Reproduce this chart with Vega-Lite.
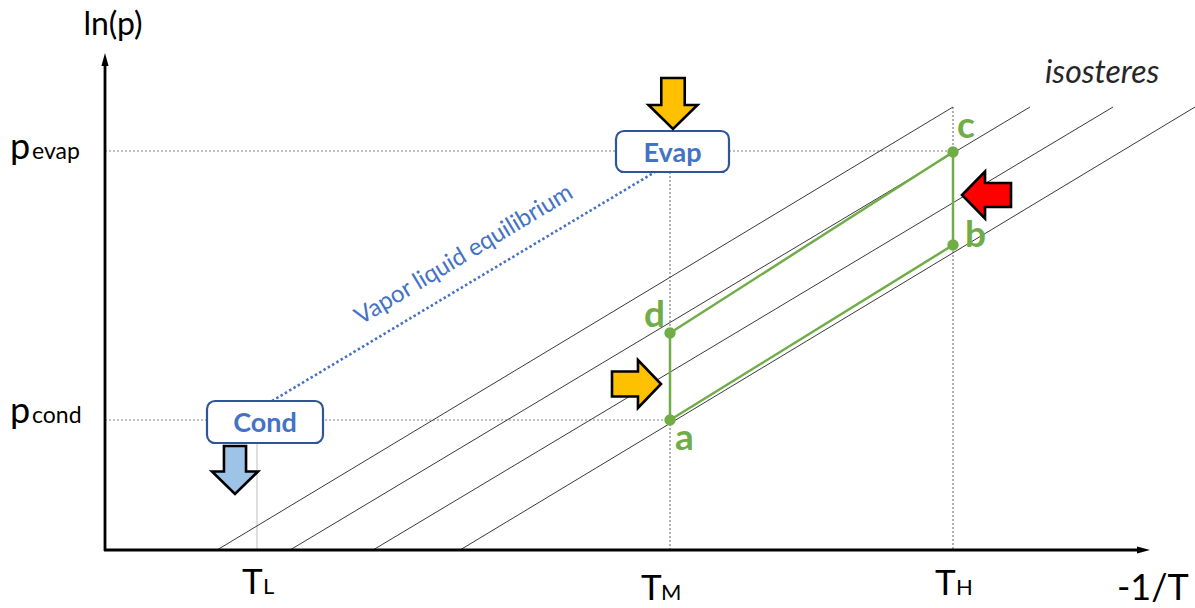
{
  "$schema": "https://vega.github.io/schema/vega-lite/v6.json",
  "width": 1195,
  "height": 608,
  "padding": 0,
  "autosize": {"type": "none"},
  "background": "white",
  "config": {"view": {"stroke": null}, "text": {"font": "Lato"}},
  "encoding": {
    "x": {"field": "x", "type": "quantitative", "scale": {"domain": [0, 1195], "nice": false, "zero": false}, "axis": null},
    "y": {"field": "y", "type": "quantitative", "scale": {"domain": [0, 608], "nice": false, "zero": false, "reverse": true}, "axis": null}
  },
  "layer": [
    {
      "data": {"values": [
        {"x": 105, "y": 151, "x2": 953, "y2": 151},
        {"x": 105, "y": 420, "x2": 670, "y2": 420},
        {"x": 670, "y": 172, "x2": 670, "y2": 550},
        {"x": 953, "y": 107, "x2": 953, "y2": 550}
      ]},
      "mark": {"type": "rule", "color": "#808080", "strokeDash": [2, 2], "strokeWidth": 1.2},
      "encoding": {"x2": {"field": "x2"}, "y2": {"field": "y2"}}
    },
    {
      "data": {"values": [{"x": 257, "y": 443, "x2": 257, "y2": 550}]},
      "mark": {"type": "rule", "color": "#d4d4d4", "strokeWidth": 1.5},
      "encoding": {"x2": {"field": "x2"}, "y2": {"field": "y2"}}
    },
    {
      "data": {"values": [
        {"x": 217, "y": 550, "x2": 953, "y2": 107},
        {"x": 290, "y": 550, "x2": 1030, "y2": 107},
        {"x": 373, "y": 550, "x2": 1113, "y2": 107},
        {"x": 460, "y": 550, "x2": 1195, "y2": 107}
      ]},
      "mark": {"type": "rule", "color": "#3a3a3a", "strokeWidth": 1},
      "encoding": {"x2": {"field": "x2"}, "y2": {"field": "y2"}}
    },
    {
      "data": {"values": [{"x": 272, "y": 401, "x2": 655, "y2": 172}]},
      "mark": {"type": "rule", "color": "#4472C4", "strokeDash": [2.5, 2.5], "strokeWidth": 2.6},
      "encoding": {"x2": {"field": "x2"}, "y2": {"field": "y2"}}
    },
    {
      "data": {"values": [
        {"x": 670, "y": 420, "x2": 953, "y2": 245},
        {"x": 953, "y": 245, "x2": 953, "y2": 152},
        {"x": 953, "y": 152, "x2": 670, "y2": 333},
        {"x": 670, "y": 333, "x2": 670, "y2": 420}
      ]},
      "mark": {"type": "rule", "color": "#70AD47", "strokeWidth": 2.5},
      "encoding": {"x2": {"field": "x2"}, "y2": {"field": "y2"}}
    },
    {
      "data": {"values": [
        {"x": 105, "y": 551, "x2": 105, "y2": 64},
        {"x": 104, "y": 550, "x2": 1140, "y2": 550}
      ]},
      "mark": {"type": "rule", "color": "#000000", "strokeWidth": 2.8},
      "encoding": {"x2": {"field": "x2"}, "y2": {"field": "y2"}}
    },
    {
      "data": {"values": [{"x": 105, "y": 59.5}]},
      "mark": {"type": "point", "shape": "M0,-1 L0.55,1 L-0.55,1 Z", "filled": true, "color": "#000000", "size": 169, "opacity": 1}
    },
    {
      "data": {"values": [{"x": 1143.5, "y": 550}]},
      "mark": {"type": "point", "shape": "M1,0 L-1,0.55 L-1,-0.55 Z", "filled": true, "color": "#000000", "size": 169, "opacity": 1}
    },
    {
      "data": {"values": [
        {"x": 670, "y": 420, "label": "a"},
        {"x": 953, "y": 245, "label": "b"},
        {"x": 953, "y": 152, "label": "c"},
        {"x": 670, "y": 333, "label": "d"}
      ]},
      "mark": {"type": "point", "filled": true, "color": "#70AD47", "size": 130, "opacity": 1}
    },
    {
      "data": {"values": [
        {"x": 675, "y": 450, "label": "a"},
        {"x": 965, "y": 247, "label": "b"},
        {"x": 957, "y": 138, "label": "c"},
        {"x": 644, "y": 327, "label": "d"}
      ]},
      "mark": {"type": "text", "align": "left", "baseline": "alphabetic", "fontSize": 37, "fontWeight": "bold", "color": "#70AD47"},
      "encoding": {"text": {"field": "label"}}
    },
    {
      "data": {"values": [
        {"x": 616, "y": 131, "x2": 729, "y2": 172},
        {"x": 207, "y": 401, "x2": 323, "y2": 443}
      ]},
      "mark": {"type": "rect", "fill": "white", "stroke": "#2F5597", "strokeWidth": 2.2, "cornerRadius": 8},
      "encoding": {"x2": {"field": "x2"}, "y2": {"field": "y2"}}
    },
    {
      "data": {"values": [
        {"x": 672.5, "y": 162, "label": "Evap"},
        {"x": 265, "y": 432, "label": "Cond"}
      ]},
      "mark": {"type": "text", "align": "center", "baseline": "alphabetic", "fontSize": 27, "fontWeight": "bold", "color": "#4472C4"},
      "encoding": {"text": {"field": "label"}}
    },
    {
      "data": {"values": [{"x": 464, "y": 255, "label": "Vapor liquid equilibrium"}]},
      "mark": {"type": "text", "align": "center", "baseline": "middle", "fontSize": 24, "angle": -31, "color": "#4472C4"},
      "encoding": {"text": {"field": "label"}}
    },
    {
      "data": {"values": [{"x": 673, "y": 103.5, "name": "adsorbent heat in"}]},
      "mark": {"type": "point", "shape": "M-0.46,-1 L0.46,-1 L0.46,0.06 L0.96,0.06 L0,1 L-0.96,0.06 L-0.46,0.06 Z", "filled": true, "fill": "#FFC000", "stroke": "#000000", "strokeWidth": 2.6, "strokeJoin": "miter", "size": 2600, "opacity": 1, "fillOpacity": 1, "strokeOpacity": 1}
    },
    {
      "data": {"values": [{"x": 235, "y": 470, "name": "cond heat out"}]},
      "mark": {"type": "point", "shape": "M-0.46,-1 L0.46,-1 L0.46,0.06 L0.96,0.06 L0,1 L-0.96,0.06 L-0.46,0.06 Z", "filled": true, "fill": "#9DC3E6", "stroke": "#000000", "strokeWidth": 2.6, "strokeJoin": "miter", "size": 2304, "opacity": 1, "fillOpacity": 1, "strokeOpacity": 1}
    },
    {
      "data": {"values": [{"x": 636.5, "y": 384, "name": "heat in da"}]},
      "mark": {"type": "point", "shape": "M-1,-0.51 L0.06,-0.51 L0.06,-0.98 L1,0 L0.06,0.98 L0.06,0.51 L-1,0.51 Z", "filled": true, "fill": "#FFC000", "stroke": "#000000", "strokeWidth": 2.6, "strokeJoin": "miter", "size": 2401, "opacity": 1, "fillOpacity": 1, "strokeOpacity": 1}
    },
    {
      "data": {"values": [{"x": 986.5, "y": 195, "name": "heat in bc"}]},
      "mark": {"type": "point", "shape": "M1,-0.49 L-0.06,-0.49 L-0.06,-0.96 L-1,0 L-0.06,0.96 L-0.06,0.49 L1,0.49 Z", "filled": true, "fill": "#FF0000", "stroke": "#000000", "strokeWidth": 2.6, "strokeJoin": "miter", "size": 2401, "opacity": 1, "fillOpacity": 1, "strokeOpacity": 1}
    },
    {
      "data": {"values": [{"x": 113, "y": 35, "label": "ln(p)"}]},
      "mark": {"type": "text", "align": "center", "baseline": "alphabetic", "fontSize": 32, "color": "#000000"},
      "encoding": {"text": {"field": "label"}}
    },
    {
      "data": {"values": [
        {"x": 10, "y": 159, "label": "p"},
        {"x": 10, "y": 423, "label": "p"}
      ]},
      "mark": {"type": "text", "align": "left", "baseline": "alphabetic", "fontSize": 36, "color": "#000000"},
      "encoding": {"text": {"field": "label"}}
    },
    {
      "data": {"values": [
        {"x": 32, "y": 159, "label": "evap"},
        {"x": 32, "y": 423, "label": "cond"}
      ]},
      "mark": {"type": "text", "align": "left", "baseline": "alphabetic", "fontSize": 23, "color": "#000000"},
      "encoding": {"text": {"field": "label"}}
    },
    {
      "data": {"values": [
        {"x": 242, "y": 594, "label": "T"},
        {"x": 641, "y": 600, "label": "T"},
        {"x": 935, "y": 595, "label": "T"}
      ]},
      "mark": {"type": "text", "align": "left", "baseline": "alphabetic", "fontSize": 35, "color": "#000000"},
      "encoding": {"text": {"field": "label"}}
    },
    {
      "data": {"values": [{"x": 1117, "y": 600, "label": "-1/T"}]},
      "mark": {"type": "text", "align": "left", "baseline": "alphabetic", "fontSize": 36, "color": "#000000"},
      "encoding": {"text": {"field": "label"}}
    },
    {
      "data": {"values": [
        {"x": 263, "y": 594, "label": "L"},
        {"x": 661, "y": 600, "label": "M"},
        {"x": 956, "y": 595, "label": "H"}
      ]},
      "mark": {"type": "text", "align": "left", "baseline": "alphabetic", "fontSize": 22, "color": "#000000"},
      "encoding": {"text": {"field": "label"}}
    },
    {
      "data": {"values": [{"x": 1045, "y": 83, "label": "isosteres"}]},
      "mark": {"type": "text", "align": "left", "baseline": "alphabetic", "fontSize": 32, "fontStyle": "italic", "color": "#262626"},
      "encoding": {"text": {"field": "label"}}
    }
  ]
}
